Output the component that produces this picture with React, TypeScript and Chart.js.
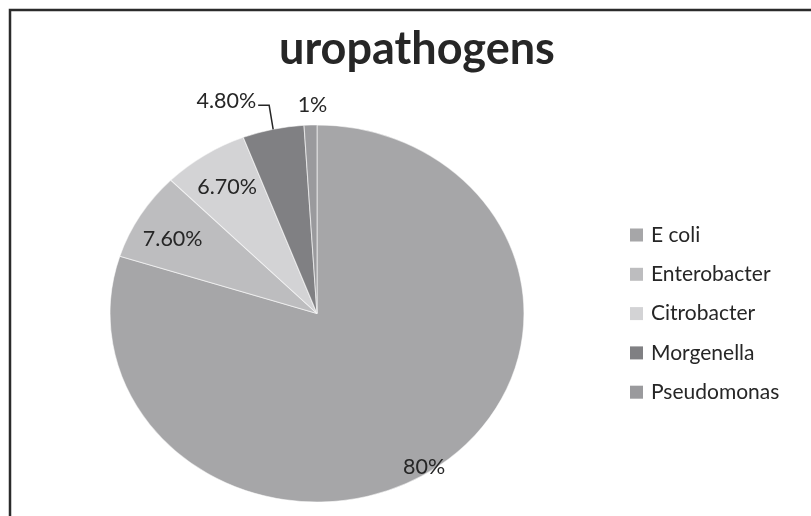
import React, { useEffect, useRef } from "react";
import { Chart, registerables } from "chart.js";

Chart.register(...registerables);

// ---- data ----
const chartTitle = "uropathogens";
const categories = ["E coli", "Enterobacter", "Citrobacter", "Morgenella", "Pseudomonas"];
const values = [80, 7.6, 6.7, 4.8, 1];
const valueLabels = ["80%", "7.60%", "6.70%", "4.80%", "1%"];

// ---- style ----
const sliceColors = ["#a6a6a8", "#bdbdbf", "#d3d3d5", "#808083", "#9a9a9d"];
const FONT = "Lato, 'Open Sans', sans-serif";
const TEXT_COLOR = "#262626";
const ELLIPSE_X = 1.098; // horizontal stretch of the pie
const PIE_RADIUS = 188.5;
const labelRadius = [0.965, 0.8, 0.8, 1, 1];
const labelShiftDeg = [3.7, -2.0, 0, 0, 0];

const ellipsePlugin = {
  id: "ellipse",
  beforeDatasetsDraw(chart: any) {
    const arc = chart.getDatasetMeta(0).data[0];
    if (!arc) return;
    const { x, y } = arc;
    const ctx = chart.ctx;
    ctx.save();
    ctx.translate(x, y);
    ctx.scale(ELLIPSE_X, 1);
    ctx.translate(-x, -y);
  },
  afterDatasetsDraw(chart: any) {
    chart.ctx.restore();
  },
};

const decorPlugin = {
  id: "decor",
  afterDraw(chart: any) {
    const ctx = chart.ctx;
    ctx.save();
    // frame
    ctx.strokeStyle = "#2b2b2b";
    ctx.lineWidth = 2.5;
    ctx.beginPath();
    ctx.moveTo(10, 530);
    ctx.lineTo(10, 10);
    ctx.lineTo(830, 10);
    ctx.stroke();

    // title
    ctx.fillStyle = TEXT_COLOR;
    ctx.font = `bold 45px ${FONT}`;
    ctx.textAlign = "center";
    ctx.textBaseline = "middle";
    ctx.fillText(chartTitle, 417, 49);

    // legend
    ctx.font = `21px ${FONT}`;
    ctx.textAlign = "left";
    categories.forEach((c, i) => {
      const cy = 235 + i * 39.3;
      ctx.fillStyle = sliceColors[i];
      ctx.fillRect(630, cy - 6.5, 13, 13);
      ctx.fillStyle = TEXT_COLOR;
      ctx.fillText(c, 651, cy);
    });

    // data labels
    const meta = chart.getDatasetMeta(0);
    ctx.font = `21.5px ${FONT}`;
    meta.data.forEach((arc: any, i: number) => {
      const { x, y, startAngle, endAngle, outerRadius } = arc.getProps(
        ["x", "y", "startAngle", "endAngle", "outerRadius"],
        true
      );
      const mid = (startAngle + endAngle) / 2 + (labelShiftDeg[i] * Math.PI) / 180;
      const f = labelRadius[i];
      const px = x + Math.cos(mid) * outerRadius * f * ELLIPSE_X;
      const py = y + Math.sin(mid) * outerRadius * f;
      ctx.fillStyle = TEXT_COLOR;
      ctx.textBaseline = "middle";
      if (i === 3) {
        // outside with leader line
        ctx.strokeStyle = TEXT_COLOR;
        ctx.lineWidth = 1.5;
        ctx.beginPath();
        ctx.moveTo(px, py);
        ctx.lineTo(px - 4, py - 24);
        ctx.lineTo(px - 15, py - 24);
        ctx.stroke();
        ctx.textAlign = "right";
        ctx.fillText(valueLabels[i], px - 17, py - 28);
      } else if (i === 4) {
        ctx.textAlign = "center";
        ctx.fillText(valueLabels[i], px + 2, py - 20);
      } else {
        ctx.textAlign = "center";
        ctx.fillText(valueLabels[i], px, py);
      }
    });
    ctx.restore();
  },
};

export default function App() {
  const ref = useRef<HTMLCanvasElement | null>(null);
  useEffect(() => {
    if (!ref.current) return;
    const chart = new Chart(ref.current, {
      type: "pie",
      data: {
        labels: categories,
        datasets: [
          {
            data: values,
            backgroundColor: sliceColors,
            borderColor: "rgba(255,255,255,0.55)",
            borderWidth: 1,
          },
        ],
      },
      options: {
        responsive: false,
        animation: false,
        devicePixelRatio: 1,
        radius: PIE_RADIUS,
        layout: { padding: { left: 117, right: 294, top: 113.5, bottom: 2.5 } },
        plugins: {
          legend: { display: false },
          title: { display: false },
          tooltip: { enabled: false },
        },
      } as any,
      plugins: [ellipsePlugin, decorPlugin],
    });
    return () => chart.destroy();
  }, []);
  return (
    <div style={{ position: "absolute", left: 0, top: 0, width: 811, height: 516, background: "#fff" }}>
      <canvas ref={ref} width={811} height={516} />
    </div>
  );
}
